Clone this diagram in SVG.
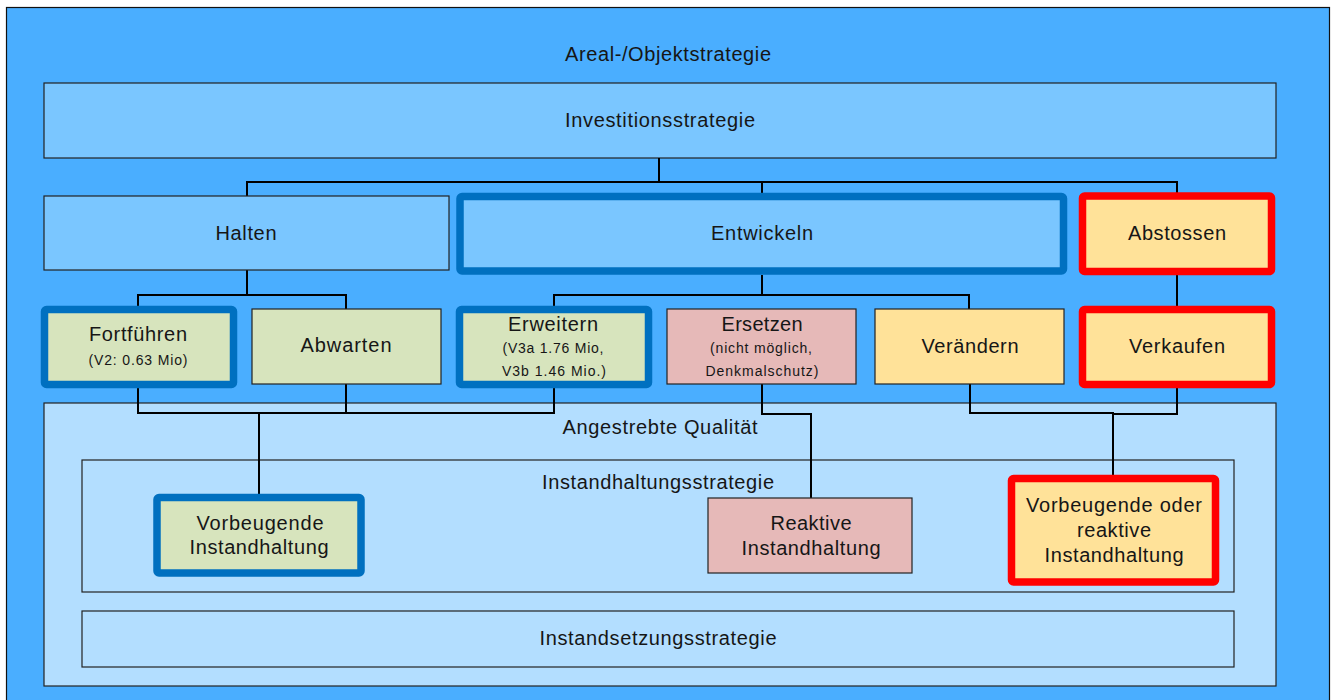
<svg xmlns="http://www.w3.org/2000/svg" width="1335" height="700" viewBox="0 0 1335 700">
<style>
.t{font-family:"Liberation Sans",Arial,sans-serif;font-size:20px;fill:#161616;text-anchor:middle}
.s{font-size:14px}
.thin{stroke:#222;stroke-width:1.2}
.blue{stroke:#0070C0;stroke-width:7.5}
.red{stroke:#FF0000;stroke-width:7.5}
.g{fill:#D7E4BD}.p{fill:#E6B9B8}.y{fill:#FFE299}.lb{fill:#7AC6FF}.pb{fill:#B3DEFF}
.c{fill:none;stroke:#000;stroke-width:2}
</style>
<rect width="1335" height="700" fill="#fff"/>
<g id="areal">
<rect x="6.5" y="7.5" width="1323" height="700" fill="#4AAEFF" stroke="#111" stroke-width="1.2"/>
<text class="t" x="668" y="61" textLength="206" lengthAdjust="spacing">Areal-/Objektstrategie</text>
</g>
<g id="investition">
<rect class="lb thin" x="44" y="83" width="1232" height="75"/>
<text class="t" x="660" y="127" textLength="190" lengthAdjust="spacing">Investitionsstrategie</text>
</g>
<g id="qualitaet">
<rect class="pb thin" x="44" y="403" width="1232" height="283"/>
<text class="t" x="660" y="434" textLength="195" lengthAdjust="spacing">Angestrebte Qualität</text>
</g>
<g id="instandhaltungsstrategie">
<rect class="pb thin" x="82" y="460" width="1152" height="132"/>
<text class="t" x="658" y="489" textLength="232" lengthAdjust="spacing">Instandhaltungsstrategie</text>
</g>
<g id="instandsetzungsstrategie">
<rect class="pb thin" x="82" y="611" width="1152" height="56"/>
<text class="t" x="658" y="645" textLength="237" lengthAdjust="spacing">Instandsetzungsstrategie</text>
</g>
<g id="connectors">
<path class="c" d="M659,158V182M247,196V182H1177V193M762,182V193"/>
<path class="c" d="M247,270V295M138,306V295H346V309"/>
<path class="c" d="M762,275V295M554,306V295H969V309"/>
<path class="c" d="M1177,275V306"/>
<path class="c" d="M138,388V413H554V388M346,384V413"/>
<path class="c" d="M259,413V494" stroke-width="2.6"/>
<path class="c" d="M762,384V414H811V498"/>
<path class="c" d="M970,384V413H1113V475M1113,414H1177V388"/>
</g>
<g id="halten">
<rect class="lb thin" x="44" y="196" width="405" height="74"/>
<text class="t" x="246" y="240" textLength="61" lengthAdjust="spacing">Halten</text>
</g>
<g id="entwickeln">
<rect class="lb blue" x="460" y="196.5" width="603.5" height="74.5" rx="2"/>
<text class="t" x="762" y="240" textLength="102" lengthAdjust="spacing">Entwickeln</text>
</g>
<g id="abstossen">
<rect class="y red" x="1082.5" y="196" width="189" height="75.5" rx="2"/>
<text class="t" x="1177" y="240" textLength="98" lengthAdjust="spacing">Abstossen</text>
</g>
<g id="fortfuehren">
<rect class="g blue" x="44.5" y="309.5" width="189" height="75" rx="2"/>
<text class="t" x="138" y="341" textLength="98" lengthAdjust="spacing">Fortführen</text>
<text class="t s" x="138" y="365" textLength="99" lengthAdjust="spacing">(V2: 0.63 Mio)</text>
</g>
<g id="abwarten">
<rect class="g thin" x="252" y="309" width="189" height="75"/>
<text class="t" x="346" y="352" textLength="91" lengthAdjust="spacing">Abwarten</text>
</g>
<g id="erweitern">
<rect class="g blue" x="459.5" y="309.5" width="189" height="75" rx="2"/>
<text class="t" x="553" y="331" textLength="90" lengthAdjust="spacing">Erweitern</text>
<text class="t s" x="553" y="353" textLength="101" lengthAdjust="spacing">(V3a 1.76 Mio,</text>
<text class="t s" x="554" y="376" textLength="104" lengthAdjust="spacing">V3b 1.46 Mio.)</text>
</g>
<g id="ersetzen">
<rect class="p thin" x="667" y="309" width="189" height="75"/>
<text class="t" x="762" y="331" textLength="81" lengthAdjust="spacing">Ersetzen</text>
<text class="t s" x="761" y="353" textLength="102" lengthAdjust="spacing">(nicht möglich,</text>
<text class="t s" x="762" y="376" textLength="113" lengthAdjust="spacing">Denkmalschutz)</text>
</g>
<g id="veraendern">
<rect class="y thin" x="875" y="309" width="189" height="75"/>
<text class="t" x="970" y="353" textLength="97" lengthAdjust="spacing">Verändern</text>
</g>
<g id="verkaufen">
<rect class="y red" x="1082.5" y="309.5" width="189" height="75" rx="2"/>
<text class="t" x="1177" y="353" textLength="96" lengthAdjust="spacing">Verkaufen</text>
</g>
<g id="vorbeugende">
<rect class="g blue" x="157" y="497.5" width="204" height="75.5" rx="2"/>
<text class="t" x="260" y="530" textLength="127" lengthAdjust="spacing">Vorbeugende</text>
<text class="t" x="259" y="554" textLength="139" lengthAdjust="spacing">Instandhaltung</text>
</g>
<g id="reaktive">
<rect class="p thin" x="708" y="498" width="204" height="75"/>
<text class="t" x="811" y="530" textLength="81" lengthAdjust="spacing">Reaktive</text>
<text class="t" x="811" y="555" textLength="139" lengthAdjust="spacing">Instandhaltung</text>
</g>
<g id="vorbeugende-oder-reaktive">
<rect class="y red" x="1011.5" y="478.5" width="204" height="103.5" rx="2"/>
<text class="t" x="1114" y="512" textLength="176" lengthAdjust="spacing">Vorbeugende oder</text>
<text class="t" x="1114" y="537" textLength="74" lengthAdjust="spacing">reaktive</text>
<text class="t" x="1114" y="562" textLength="139" lengthAdjust="spacing">Instandhaltung</text>
</g>
</svg>
